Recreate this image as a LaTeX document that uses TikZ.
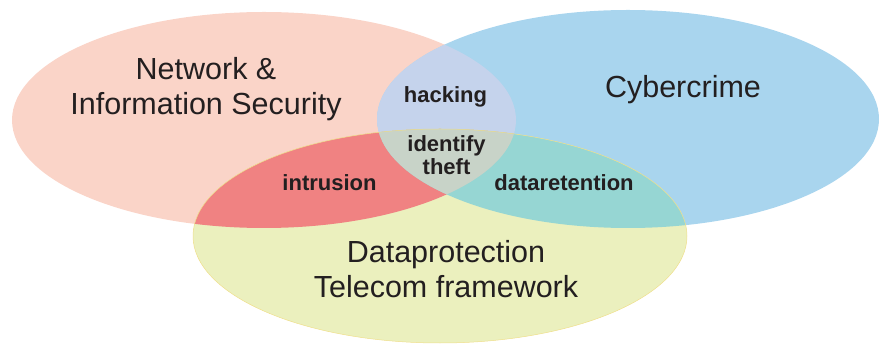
\documentclass[tikz,border=0pt]{standalone}
\usepackage{fontspec}
\setmainfont{Liberation Sans}
\usepackage{tikz}
\usetikzlibrary{positioning}

\definecolor{netcol}{HTML}{FAD4C8}
\definecolor{crimecol}{HTML}{A9D5EE}
\definecolor{protcol}{HTML}{EBF0BE}
\definecolor{protline}{HTML}{EFDF8C}
\definecolor{hackcol}{HTML}{C5D3EC}
\definecolor{intrcol}{HTML}{F08282}
\definecolor{retcol}{HTML}{96D6D3}
\definecolor{theftcol}{HTML}{C8D3C8}
\definecolor{inkcol}{HTML}{231F20}

\newcommand{\netset}{(264,120) ellipse [x radius=252pt, y radius=108pt]}
\newcommand{\crimeset}{(628,119) ellipse [x radius=251pt, y radius=109pt]}
\newcommand{\protset}{(440,236) ellipse [x radius=247pt, y radius=107pt]}

\begin{document}
\begin{tikzpicture}[x=1pt,y=-1pt,
                        big node/.style={inner sep=0pt,align=center,text=inkcol,font=\fontsize{30.5}{35}\selectfont},
                        small node/.style={inner sep=0pt,align=center,text=inkcol,font=\fontsize{22}{23}\selectfont\bfseries}]

      \useasboundingbox (0,0) rectangle (880,344);
      \fill[netcol] \netset;
      \fill[crimecol] \crimeset;
      \fill[protcol] \protset;
      \begin{scope}
        \clip \netset;
        \fill[hackcol] \crimeset;
        \fill[intrcol] \protset;
      \end{scope}
      \begin{scope}
        \clip \crimeset;
        \fill[retcol] \protset;
      \end{scope}
      \begin{scope}
        \clip \netset;
        \clip \crimeset;
        \fill[theftcol] \protset;
      \end{scope}
      \draw[protline,line width=0.5pt] \protset;

      \node[big node] (net) at (206,89.6) {Network \&\\Information Security};
      \node[big node,anchor=base] (crime) at (683,98) {Cybercrime};
      \node[big node] (prot) at (446,269) {Dataprotection\\Telecom framework};
      \node[small node,anchor=base] (hack) at (445.5,102.7) {hacking};
      \node[small node] (theft) at (446.5,155.5) {identify\\theft};
      \node[small node,anchor=base] (intr) at (329.5,191) {intrusion};
      \node[small node,anchor=base] (ret) at (564,191) {dataretention};
    \end{tikzpicture}
\end{document}
